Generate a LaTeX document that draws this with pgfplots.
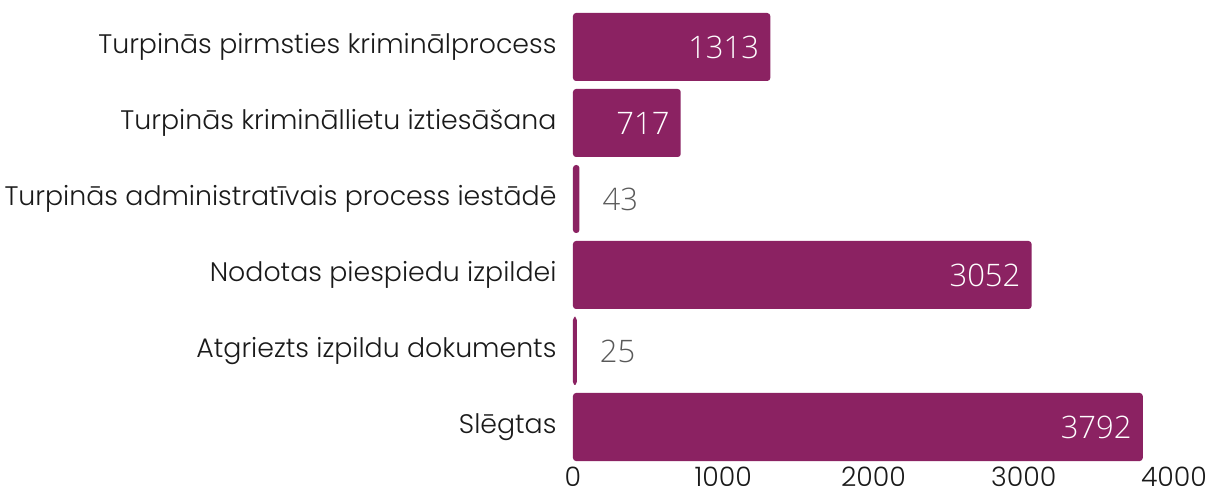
\documentclass[border=0pt]{standalone}
\usepackage{pgfplots}
\pgfplotsset{compat=1.18}
\usepackage{fontspec}
\setmainfont{Poppins}[UprightFont=* Light]
\newfontfamily\valfont{Open Sans}[UprightFont=* Light]
\definecolor{barc}{RGB}{139,34,98}
\definecolor{valgray}{RGB}{89,89,89}
\definecolor{labc}{RGB}{26,26,26}

\begin{document}
\begin{tikzpicture}
\begin{axis}[
 scale only axis, width=601pt, height=456pt,
 xmin=0, xmax=4000, ymin=-0.5, ymax=5.5,
 xtick={0,1000,2000,3000,4000},
 ytick={0,...,5},
 yticklabels={Slēgtas, Atgriezts izpildu dokuments, Nodotas piespiedu izpildei, Turpinās administratīvais process iestādē, Turpinās krimināllietu iztiesāšana, Turpinās pirmsties kriminālprocess},
 axis line style={draw=none}, major tick length=0pt,
 tick label style={font=\fontsize{26.8}{31}\selectfont, text=labc},
 yticklabel style={xshift=-13pt},
 xticklabel style={inner ysep=2pt},
 /pgf/number format/assume math mode=true, /pgf/number format/1000 sep={},
 clip=false,
]
\addplot[xbar, bar width=68pt, fill=barc, draw=none, rounded corners=3pt]
  coordinates {(1313,5) (717,4) (43,3) (3052,2) (25,1) (3792,0)};
% values inside the long bars
\addplot[only marks, mark size=0pt, point meta=explicit symbolic,
  nodes near coords={\pgfplotspointmeta},
  nodes near coords style={anchor=east, text=white, font=\valfont\fontsize{31}{36}\selectfont, xshift=-11pt, inner sep=0pt}]
  coordinates {(1313,5) [1313] (717,4) [717] (3052,2) [3052] (3792,0) [3792]};
% values beside the short bars
\addplot[only marks, mark size=0pt, point meta=explicit symbolic,
  nodes near coords={\pgfplotspointmeta},
  nodes near coords style={anchor=west, text=valgray, font=\valfont\fontsize{31}{36}\selectfont, xshift=23pt, inner sep=0pt}]
  coordinates {(43,3) [43] (25,1) [25]};
\end{axis}
\path ([xshift=-573pt,yshift=-32pt]current axis.south west) rectangle ([xshift=39pt,yshift=9pt]current axis.north east);
\end{tikzpicture}
\end{document}
